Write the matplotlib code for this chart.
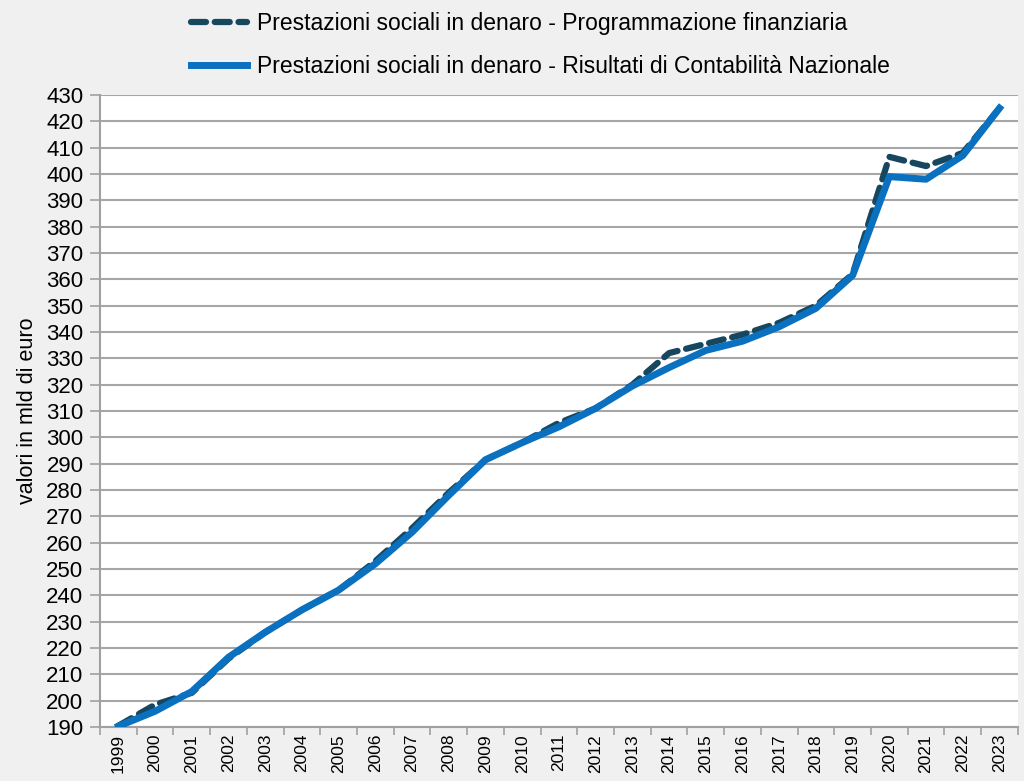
import matplotlib.pyplot as plt
import numpy as np

anni = [str(a) for a in range(1999, 2024)]

# Prestazioni sociali in denaro (mld di euro)
programmazione = [190.5, 198.5, 203, 216, 226, 234.5, 242, 253, 265.5, 279,
                  291.5, 298, 305.5, 311, 320, 332, 335.5, 339, 343.5, 350,
                  362, 406.5, 403, 408, 425]
contabilita = [190.3, 196, 203.5, 216.5, 226, 234.5, 242, 252, 264, 278,
               291.5, 298, 304, 311, 319.5, 326.5, 333, 336.5, 342, 349,
               361.5, 399, 398, 407, 425]

plt.rcParams['font.family'] = ['Liberation Sans', 'DejaVu Sans']

fig = plt.figure(figsize=(10.24, 7.81), dpi=100, facecolor='#f0f0f0')
ax = fig.add_axes([0.0977, 0.0691, 0.8963, 0.8093])
ax.set_facecolor('white')

x = np.arange(len(anni))
ax.plot(x, programmazione, color='#17475f', lw=4.5, ls=(0, (2.4, 1.4)),
        dash_capstyle='round',
        label='Prestazioni sociali in denaro - Programmazione finanziaria', zorder=3)
ax.plot(x, contabilita, color='#0a70c0', lw=5, solid_joinstyle='round',
        label='Prestazioni sociali in denaro - Risultati di Contabilità Nazionale', zorder=4)

ax.set_ylim(190, 430)
ax.set_yticks(np.arange(190, 431, 10))
ax.set_xlim(-0.5, len(anni) - 0.5)
ax.set_xticks(x)
ax.set_xticklabels(anni, rotation=90, fontsize=12.5)
ax.set_xticks(np.arange(-0.5, len(anni)), minor=True)
ax.tick_params(axis='x', which='major', length=0, pad=5)
ax.tick_params(axis='x', which='minor', length=6, color='#a0a0a0', width=1.2)
ax.tick_params(axis='y', length=7, color='#a0a0a0', width=1.2, labelsize=16, pad=5)

ax.grid(axis='y', color='#a6a6a6', lw=1.5)
ax.set_axisbelow(True)
for s in ['top', 'right']:
    ax.spines[s].set_visible(False)
ax.spines['left'].set_color('#a0a0a0')
ax.spines['left'].set_linewidth(1.5)
ax.spines['bottom'].set_color('#a0a0a0')
ax.spines['bottom'].set_linewidth(1.5)

ax.set_ylabel('valori in mld di euro', fontsize=15.5, labelpad=6)

leg = fig.legend(loc='upper center', bbox_to_anchor=(0.528, 1.005), ncol=1, frameon=False,
                 fontsize=16.5, handlelength=2.45, handletextpad=0.45,
                 labelspacing=0.85, borderaxespad=0.3)

fig.savefig('out.png', dpi=100, facecolor=fig.get_facecolor())
